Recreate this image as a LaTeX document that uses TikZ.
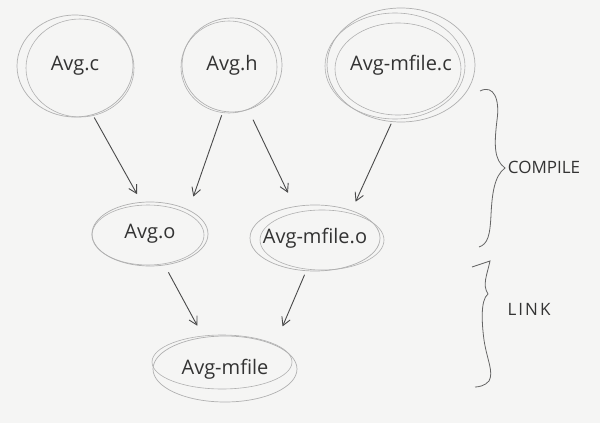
\documentclass[tikz,border=0pt]{standalone}
\usepackage{fontspec}
\setmainfont{Open Sans}
\usetikzlibrary{shapes.geometric,arrows.meta}
\definecolor{paper}{HTML}{F5F5F4}
\definecolor{pencil}{HTML}{B0B0B0}
\definecolor{ink}{HTML}{333333}
\definecolor{arrowink}{HTML}{4A4A4A}
\begin{document}
\begin{tikzpicture}[x=1pt,y=-1pt,
  bubble/.style={ellipse, draw=pencil, line width=0.7pt, inner sep=0pt, text=ink, font=\fontsize{20}{24}\selectfont},
  sketch/.style={draw=pencil, line width=0.6pt},
  flow/.style={draw=arrowink, line width=0.9pt, -{Straight Barb[length=8pt,width=9pt]}},
  bracestroke/.style={draw=arrowink!85, line width=0.8pt},
  side/.style={text=ink, font=\fontsize{17}{20}\selectfont}]
\fill[paper] (0,0) rectangle (600,423);
\useasboundingbox (0,0) rectangle (600,423);

% top row
\node[bubble, minimum width=116pt, minimum height=102pt] (avgc) at (75,66) {\makebox[0pt]{Avg.c}};
\draw[sketch] (80,68) ellipse (54 and 49);
\node[bubble, minimum width=100pt, minimum height=94pt] (avgh) at (232,65) {\makebox[0pt]{Avg.h}};
\draw[sketch] (229,67) ellipse (48 and 46);
\node[bubble, minimum width=148pt, minimum height=114pt] (avgmc) at (401,65) {\makebox[0pt]{Avg-mfile.c}};
\draw[sketch] (398,69) ellipse (63 and 46);
\draw[sketch] (395,66) ellipse (70 and 53);

% middle row
\node[bubble, minimum width=116pt, minimum height=64pt] (avgo) at (150,234) {\makebox[0pt]{Avg.o}};
\draw[sketch] (148,235) ellipse (56 and 30);
\node[bubble, minimum width=130pt, minimum height=66pt] (avgmo) at (315,238) {\makebox[0pt]{Avg-mfile.o}};
\draw[sketch] (322,240) ellipse (62 and 30);

% bottom
\node[bubble, minimum width=144pt, minimum height=66pt] (avgm) at (225,369) {\makebox[0pt]{Avg-mfile}};
\draw[sketch] (222,362) ellipse (70 and 27);

% arrows
\draw[flow, shorten <=3pt, shorten >=9pt] (avgc.-70) -- (avgo.105);
\draw[flow, shorten <=4pt, shorten >=14pt] (avgh.-101) -- (avgo.32);
\draw[flow, shorten <=11pt, shorten >=15pt] (avgh.-70) -- (avgmo.123);
\draw[flow, shorten <=2pt, shorten >=9.5pt] (avgmc.-99.6) -- (avgmo.37);
\draw[flow, shorten <=8pt, shorten >=13pt] (avgo.-65) -- (avgm.124.5);
\draw[flow, shorten <=4pt, shorten >=20pt] (avgmo.-105) -- (avgm.26.8);

% braces
\draw[bracestroke] (480,91) .. controls (494,84) and (500,100) .. (497,120)
  .. controls (494,145) and (494,160) .. (505,168)
  .. controls (494,176) and (492,195) .. (491,215)
  .. controls (490,235) and (488,244) .. (479,247);
\draw[bracestroke] (472,267) -- (490,261)
  .. controls (487,275) and (482,285) .. (488,294)
  .. controls (480,300) and (482,325) .. (484,340)
  .. controls (487,360) and (494,372) .. (489,381)
  .. controls (485,386) and (478,387) .. (475,387);

\node[side] (compile) at (544,167) {COMPILE};
\node[side] (link) at (529,309) {\addfontfeature{LetterSpace=12}LINK};
\end{tikzpicture}
\end{document}
